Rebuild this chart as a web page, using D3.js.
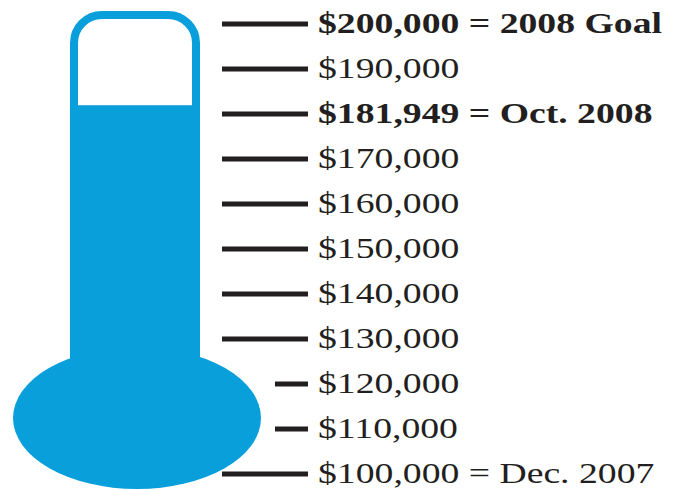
<!DOCTYPE html>
<html>
<head>
<meta charset="utf-8">
<script src="https://cdn.jsdelivr.net/npm/d3@7"></script>
<style>
  html, body { margin: 0; padding: 0; background: #fff; }
  svg { display: block; }
</style>
</head>
<body>
<div id="chart"></div>
<script>
// Datos
const startValue = 100000;
const goalValue = 200000;
const raisedValue = 181949;
const tickValues = [100000, 110000, 120000, 130000, 140000, 150000, 160000, 170000, 180000, 190000, 200000];
const tickLabels = ["$100,000 = Dec. 2007", "$110,000", "$120,000", "$130,000", "$140,000",
  "$150,000", "$160,000", "$170,000", "$181,949 = Oct. 2008", "$190,000", "$200,000 = 2008 Goal"];

const width = 673, height = 490;
const blue = "#089fdb", ink = "#231f20";

const svg = d3.select("#chart").append("svg")
  .attr("width", width)
  .attr("height", height);

const yScale = d3.scaleLinear().domain([startValue, goalValue]).range([474, 24]);

// termómetro
const tube = { x0: 70, x1: 200, top: 11, bottom: 370, r: 32, border: 8 };
const bulb = { cx: 137, cy: 418, rx: 124, ry: 71 };

// relleno
svg.append("rect")
  .attr("x", tube.x0)
  .attr("y", yScale(raisedValue))
  .attr("width", tube.x1 - tube.x0)
  .attr("height", tube.bottom - yScale(raisedValue))
  .attr("fill", blue);

// borde del tubo
const h = tube.border / 2;
const bx0 = tube.x0 + h, bx1 = tube.x1 - h, by = tube.top + h, br = tube.r - h;
const p = d3.path();
p.moveTo(bx0, tube.bottom);
p.lineTo(bx0, by + br);
p.arcTo(bx0, by, bx0 + br, by, br);
p.lineTo(bx1 - br, by);
p.arcTo(bx1, by, bx1, by + br, br);
p.lineTo(bx1, tube.bottom);
svg.append("path")
  .attr("d", p.toString())
  .attr("fill", "none")
  .attr("stroke", blue)
  .attr("stroke-width", tube.border);

svg.append("ellipse")
  .attr("cx", bulb.cx)
  .attr("cy", bulb.cy)
  .attr("rx", bulb.rx)
  .attr("ry", bulb.ry)
  .attr("fill", blue);

// marcas
const tickEnd = 308;
svg.append("g")
  .selectAll("line")
  .data(tickValues)
  .join("line")
  .attr("x1", d => Math.abs(yScale(d) - bulb.cy) < bulb.ry * 0.6 ? 275 : 222)
  .attr("x2", tickEnd)
  .attr("y1", d => yScale(d))
  .attr("y2", d => yScale(d))
  .attr("stroke", ink)
  .attr("stroke-width", 5);

// etiquetas
svg.append("g")
  .selectAll("text")
  .data(tickValues)
  .join("text")
  .attr("transform", d => `translate(318,${yScale(d) + 9}) scale(1.3,1)`)
  .attr("font-family", "'Liberation Serif', 'Times New Roman', serif")
  .attr("font-size", 29)
  .attr("font-weight", (d, i) => tickLabels[i].includes("2008") ? "bold" : "normal")
  .attr("fill", ink)
  .text((d, i) => tickLabels[i]);
</script>
</body>
</html>
